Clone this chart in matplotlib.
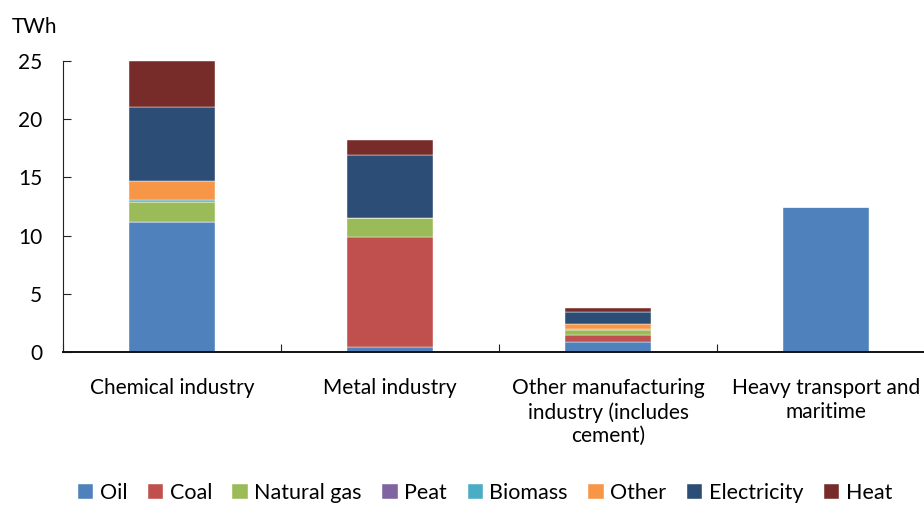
import numpy as np
import matplotlib.pyplot as plt

plt.rcParams['font.family'] = ['Lato', 'DejaVu Sans']

categories = ['Chemical industry', 'Metal industry',
              'Other manufacturing\nindustry (includes\ncement)',
              'Heavy transport and\nmaritime']
fuels = ['Oil', 'Coal', 'Natural gas', 'Peat', 'Biomass', 'Other', 'Electricity', 'Heat']
colors = ['#4F81BD', '#C0504D', '#9BBB59', '#8064A2', '#4BACC6', '#F79646', '#2C4D75', '#772C2A']

oil = [11.2, 0.4, 0.9, 12.5]
coal = [0.0, 9.45, 0.6, 0.0]
natural_gas = [1.7, 1.7, 0.4, 0.0]
peat = [0.0, 0.0, 0.05, 0.0]
biomass = [0.12, 0.0, 0.05, 0.0]
other = [1.65, 0.0, 0.4, 0.0]
electricity = [6.35, 5.4, 1.05, 0.0]
heat = [3.98, 1.23, 0.32, 0.0]

series = [oil, coal, natural_gas, peat, biomass, other, electricity, heat]

fig = plt.figure(figsize=(9.24, 5.05), dpi=100)
ax = fig.add_axes([63 / 924, 153 / 505, 872 / 924, 291 / 505])

x = np.arange(len(categories))
bottom = np.zeros(len(categories))
handles = []
for name, vals, c in zip(fuels, series, colors):
    vals = np.array(vals)
    b = ax.bar(x, vals, width=0.395, bottom=bottom, color=c, label=name,
               edgecolor='white', linewidth=0.3)
    bottom += vals
    handles.append(b)

ax.set_xlim(-0.5, 3.5)
ax.set_ylim(0, 25)
ax.set_yticks([0, 5, 10, 15, 20, 25])
ax.tick_params(axis='y', labelsize=15, length=6, direction='in', color='#222222', pad=15)

# separators between categories as major ticks, names on minor ticks
ax.set_xticks([-0.5, 0.5, 1.5, 2.5, 3.5])
ax.set_xticklabels([])
ax.set_xticks(x, minor=True)
ax.set_xticklabels(categories, minor=True, fontsize=15, linespacing=1.22)
ax.tick_params(axis='x', which='major', length=6, direction='in', color='#222222')
ax.tick_params(axis='x', which='minor', length=0, pad=19)

for s in ['top', 'right']:
    ax.spines[s].set_visible(False)
ax.spines['left'].set_color('#222222')
ax.spines['bottom'].set_color('#111111')
ax.spines['bottom'].set_linewidth(1.4)

fig.text(12 / 924, 1 - 27 / 505, 'TWh', fontsize=15, va='center', ha='left')

fig.legend(handles=handles, labels=fuels, loc='center', bbox_to_anchor=(485 / 924, 1 - 493 / 505),
           ncol=8, frameon=False, fontsize=15.5, handlelength=0.72, handleheight=0.72,
           handletextpad=0.3, columnspacing=0.95)

fig.savefig('out.png', dpi=100)
